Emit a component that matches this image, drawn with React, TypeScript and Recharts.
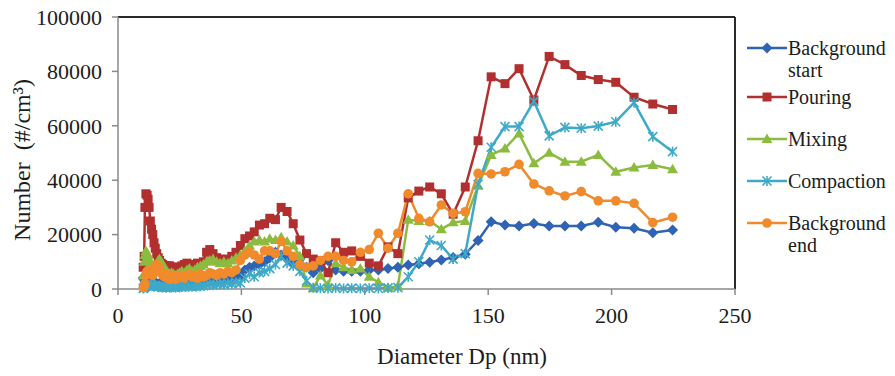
import React from 'react';
import { LineChart, Line, XAxis, YAxis, ReferenceLine } from 'recharts';

// Particle diameter bins (nm), 64 channels per decade
const diameters = [
  10.2, 10.6, 10.9, 11.3, 11.8, 12.2, 12.6, 13.1, 13.6, 14.1, 14.6, 15.1, 15.7, 16.3, 16.8,
  17.5, 18.1, 18.8, 19.5, 20.2, 20.9, 21.7, 22.5, 23.3, 24.1, 25.0, 25.9, 26.9, 27.9, 28.9,
  30.0, 31.1, 32.2, 33.4, 34.6, 35.9, 37.2, 38.5, 40.0, 41.4, 42.9, 44.5, 46.1, 47.8, 49.6,
  51.4, 53.3, 55.2, 57.3, 59.4, 61.5, 63.8, 66.1, 68.5, 71.0, 73.7, 76.4, 79.1, 82.0, 85.1,
  88.2, 91.4, 94.7, 98.2, 101.8, 105.5, 109.4, 113.4, 117.6, 121.9, 126.3, 131.0, 135.8,
  140.7, 145.9, 151.2, 156.8, 162.5, 168.5, 174.7, 181.1, 187.7, 194.6, 201.7, 209.1,
  216.7, 224.7,
];

// Number concentration (#/cm3) per bin
const backgroundStart = [
  4000, 3500, 3000, 2500, 2000, 2500, 2000, 2500, 2000, 1500, 2000, 2500, 2000, 1500, 2000,
  2500, 2000, 1500, 2000, 1500, 2000, 1500, 2000, 2500, 2000, 1500, 2000, 2500, 2000, 2500,
  3000, 2500, 3000, 3500, 3000, 3500, 3000, 3500, 3000, 3500, 4000, 3500, 4000, 4500, 5000,
  7000, 8000, 8500, 9000, 10000, 11500, 13500, 12500, 11000, 9500, 11000, 8000, 6000, 7500, 10500,
  7000, 6500, 6500, 6500, 7000, 7000, 7500, 8000, 8800, 9300, 9800, 10700, 11600,
  12800, 17800, 24700, 23500, 23200, 24100, 23200, 23200, 23200, 24500, 22700, 22300,
  20700, 21700,
];

const pouring = [
  8000, 12000, 30000, 35000, 34500, 33000, 30000, 25000, 22000, 20000, 17000, 15000, 13000, 11500, 10500,
  9500, 9000, 8500, 8500, 8500, 8500, 8000, 8000, 8000, 7500, 8000, 8500, 9000, 9500, 9000,
  8500, 9000, 9500, 9000, 10000, 13500, 14500, 13000, 11500, 11000, 10500, 11000, 12000, 13500, 16000,
  18500, 19500, 21000, 23500, 24000, 26000, 25500, 30000, 28500, 24000, 18000, 13000, 11000, 10500, 6000,
  17000, 13500, 14000, 12000, 9500, 8500, 15500, 13000, 33500, 36000, 37500, 35000, 27500,
  37500, 54500, 78000, 75500, 81000, 69500, 85500, 82500, 78500, 77000, 76000, 70500,
  68000, 66000,
];

const mixing = [
  5000, 10000, 12500, 14000, 13000, 12500, 11000, 9500, 8000, 7500, 8000, 7000, 8500, 10500, 11000,
  10000, 9000, 7500, 7000, 6000, 5500, 6000, 5500, 5000, 5500, 6000, 6500, 6000, 7000, 7500,
  6500, 7000, 8000, 8500, 9000, 10000, 10500, 11000, 10000, 9500, 10000, 9500, 10500, 11500, 12500,
  14000, 16000, 17500, 18000, 17500, 18500, 18000, 19000, 17500, 16000, 12000, 2000, 300, 5000, 1500,
  9500, 8000, 7000, 7500, 4500, 2500, 500, 1000, 25500, 25000, 25000, 22000, 24500,
  25000, 38000, 49300, 51700, 57200, 46200, 50100, 46800, 46800, 49300, 43100, 44700,
  45600, 44000,
];

const compaction = [
  200, 500, 800, 1200, 1500, 1000, 1300, 1800, 1500, 1200, 1000, 1400, 1100, 800, 1000,
  800, 600, 800, 500, 700, 600, 900, 700, 500, 800, 1000, 700, 900, 1200, 1000,
  800, 1100, 1300, 1000, 1200, 1500, 1800, 1400, 1700, 2000, 1600, 2200, 1900, 2500, 2200,
  4000, 5500, 4500, 6000, 6500, 7500, 9000, 12000, 9500, 8500, 6500, 3000, 500, 300, 200,
  400, 200, 300, 200, 300, 200, 400, 500, 4500, 10000, 18000, 16000, 11000,
  13000, 38500, 52100, 59700, 59700, 69000, 56300, 59400, 59100, 59900, 61500, 68500,
  56000, 50500,
];

const backgroundEnd = [
  500, 1000, 2000, 5000, 6500, 6000, 5500, 7000, 6000, 5000, 6000, 7500, 9000, 8500, 7000,
  6000, 5000, 4500, 5500, 4000, 3500, 5000, 4500, 3500, 4000, 5000, 4500, 4000, 5000, 5500,
  4500, 5000, 4000, 5500, 4500, 5000, 6000, 5500, 5000, 6000, 5500, 6500, 6000, 7000, 10500,
  12500, 13500, 12500, 11000, 14000, 14000, 13000, 17500, 14000, 12000, 9000, 8000, 8500, 10500, 12000,
  12000, 10500, 10000, 13500, 14500, 20500, 15000, 20500, 35000, 26000, 24700, 30900, 27800,
  28400, 42500, 42300, 43100, 45800, 38600, 36100, 34200, 35800, 32400, 32400, 31500,
  24400, 26400,
];

const xTicks = [0, 50, 100, 150, 200, 250];
const yTicks = [0, 10000, 20000, 30000, 40000, 50000, 60000, 70000, 80000, 90000, 100000];

const seriesNames = ['Background start', 'Pouring', 'Mixing', 'Compaction', 'Background end'];

const data = diameters.map((dp, i) => ({
  dp,
  bgStart: backgroundStart[i],
  pouring: pouring[i],
  mixing: mixing[i],
  compaction: compaction[i],
  bgEnd: backgroundEnd[i],
}));

const FONT = '"Liberation Serif", "Times New Roman", serif';
const TEXT = '#1c1c1c';

const COLORS = {
  bgStart: '#2f63b3',
  pouring: '#b1302f',
  mixing: '#8cbc3f',
  compaction: '#3fa9c8',
  bgEnd: '#f08a2b',
};

type MarkerKind = 'diamond' | 'square' | 'triangle' | 'star' | 'circle';

function Marker({ kind, cx, cy, color }: { kind: MarkerKind; cx: number; cy: number; color: string }) {
  if (cx == null || cy == null || isNaN(cx) || isNaN(cy)) return null;
  switch (kind) {
    case 'diamond':
      return <path d={`M${cx},${cy - 5.5}L${cx + 5.5},${cy}L${cx},${cy + 5.5}L${cx - 5.5},${cy}Z`} fill={color} />;
    case 'square':
      return <rect x={cx - 4.5} y={cy - 4.5} width={9} height={9} fill={color} />;
    case 'triangle':
      return <path d={`M${cx},${cy - 5.5}L${cx + 5.5},${cy + 4}L${cx - 5.5},${cy + 4}Z`} fill={color} />;
    case 'star':
      return (
        <g stroke={color} strokeWidth={1.6}>
          <line x1={cx - 4.5} y1={cy - 4.5} x2={cx + 4.5} y2={cy + 4.5} />
          <line x1={cx - 4.5} y1={cy + 4.5} x2={cx + 4.5} y2={cy - 4.5} />
          <line x1={cx} y1={cy - 5} x2={cx} y2={cy + 5} />
        </g>
      );
    default:
      return <circle cx={cx} cy={cy} r={4.8} fill={color} />;
  }
}

const seriesDefs: { key: keyof typeof COLORS; name: string; kind: MarkerKind }[] = [
  { key: 'bgStart', name: seriesNames[0], kind: 'diamond' },
  { key: 'pouring', name: seriesNames[1], kind: 'square' },
  { key: 'mixing', name: seriesNames[2], kind: 'triangle' },
  { key: 'compaction', name: seriesNames[3], kind: 'star' },
  { key: 'bgEnd', name: seriesNames[4], kind: 'circle' },
];

// Legend entry heights (two-line entries are taller)
const legendRowHeights = [48.5, 42, 42, 42, 48];

function LegendBox() {
  return (
    <div
      style={{
        position: 'absolute',
        left: 746,
        top: 37,
        width: 150,
        fontFamily: FONT,
        fontSize: 20,
        color: TEXT,
        lineHeight: '22px',
      }}
    >
      {seriesDefs.map((s, i) => (
        <div key={s.key} style={{ display: 'flex', alignItems: 'flex-start', height: legendRowHeights[i] }}>
          <svg width={42} height={22} style={{ flex: 'none' }}>
            <line x1={1} y1={11} x2={41} y2={11} stroke={COLORS[s.key]} strokeWidth={2.5} />
            <Marker kind={s.kind} cx={21} cy={11} color={COLORS[s.key]} />
          </svg>
          <div style={{ width: 100, whiteSpace: 'normal' }}>{s.name}</div>
        </div>
      ))}
    </div>
  );
}

export default function App() {
  return (
    <div style={{ position: 'absolute', left: 0, top: 0, width: 895, height: 376, background: '#fff' }}>
      <LineChart
        width={895}
        height={376}
        data={data}
        margin={{ top: 17, right: 160, bottom: 7, left: 0 }}
      >
        <XAxis
          dataKey="dp"
          type="number"
          domain={[0, 250]}
          ticks={xTicks}
          height={80}
          tickSize={6}
          tickMargin={12}
          stroke="#8a8a8a"
          strokeWidth={1.5}
          tick={{ fontSize: 22, fill: TEXT, fontFamily: FONT }}
          label={{
            content: () => (
              <text x={462} y={364} textAnchor="middle" fontSize={23} fill={TEXT} fontFamily={FONT}>
                Diameter Dp (nm)
              </text>
            ),
          }}
        />
        <YAxis
          type="number"
          domain={[0, 100000]}
          ticks={yTicks}
          width={118}
          tickSize={6}
          tickMargin={10}
          stroke="#8a8a8a"
          strokeWidth={1.5}
          tick={{ fontSize: 22, fill: TEXT, fontFamily: FONT }}
          label={{
            content: () => (
              <text
                x={30}
                y={160}
                transform="rotate(-90 30 160)"
                textAnchor="middle"
                fontSize={24}
                fill={TEXT}
                fontFamily={FONT}
              >
                {'Number\u00A0\u00A0(#/cm\u00B3)'}
              </text>
            ),
          }}
        />
        <ReferenceLine y={100000} stroke="#2a2a2a" strokeWidth={2} ifOverflow="visible" />
        <ReferenceLine x={250} stroke="#2a2a2a" strokeWidth={2} ifOverflow="visible" />
        {seriesDefs.map((s) => (
          <Line
            key={s.key}
            type="linear"
            dataKey={s.key}
            name={s.name}
            stroke={COLORS[s.key]}
            strokeWidth={2.5}
            isAnimationActive={false}
            activeDot={false}
            dot={(p: any) => (
              <Marker key={`${s.key}-${p.index}`} kind={s.kind} cx={p.cx} cy={p.cy} color={COLORS[s.key]} />
            )}
          />
        ))}
      </LineChart>
      <LegendBox />
    </div>
  );
}
